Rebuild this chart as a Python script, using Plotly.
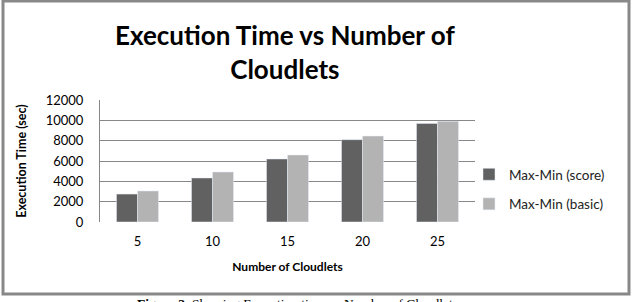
import plotly.graph_objects as go

categories = ["5", "10", "15", "20", "25"]
score = [2750, 4330, 6200, 8100, 9700]
basic = [3050, 4920, 6590, 8450, 9900]
yticks = [0, 2000, 4000, 6000, 8000, 10000, 12000]

W, H = 639, 302
L, R, T, B = 100, 164, 100, 80
pw, ph = W - L - R, H - T - B

def px(x):
    return (x - L) / pw

def py(y):
    return (H - B - y) / ph

fig = go.Figure()
fig.add_trace(go.Bar(x=categories, y=score, name="Max-Min (score)", marker_color="#616161",
                     legendgroup="a"))
fig.add_trace(go.Bar(x=categories, y=basic, name="Max-Min (basic)", marker_color="#b3b3b3",
                     legendgroup="b"))

fig.update_layout(
    width=W, height=H,
    margin=dict(l=L, r=R, t=T, b=B),
    paper_bgcolor="white", plot_bgcolor="white",
    barmode="group", bargap=0.44, bargroupgap=0,
    font=dict(family="Lato", color="#000"),
    showlegend=True,
    legend=dict(x=px(469), y=py(159), xanchor="left", yanchor="top",
                font=dict(size=13.5, family="Lato", color="#222"),
                itemwidth=30, tracegroupgap=9, bgcolor="rgba(0,0,0,0)"),
    xaxis=dict(showline=False, ticks="", tickfont=dict(size=13, family="Lato"),
               ticklabelstandoff=10,
               title=dict(text="<b>Number of Cloudlets</b>", font=dict(size=12), standoff=14)),
    yaxis=dict(range=[0, 12000], tickvals=yticks, ticktext=[str(v) for v in yticks],
               showgrid=True, gridcolor="#888", gridwidth=1,
               showline=True, linecolor="#888", linewidth=1, ticks="", zeroline=False,
               tickfont=dict(size=13, family="Lato"), ticklabelstandoff=13,
               title=dict(text="<b>Execution Time (sec)</b>", font=dict(size=12.5), standoff=16)),
    shapes=[dict(type="rect", xref="paper", yref="paper",
                 x0=px(3), x1=px(629), y0=py(294), y1=py(1),
                 line=dict(color="#888", width=3), layer="below")],
    annotations=[
        dict(text="<b>Execution Time vs Number of<br>Cloudlets</b>",
             xref="paper", yref="paper", x=px(285), y=py(17),
             xanchor="center", yanchor="top", showarrow=False,
             font=dict(size=26, family="Lato", color="#000")),
        dict(text="<b>Figure 3.</b> Showing Execution time vs Number of Cloudlets",
             xref="paper", yref="paper", x=px(135), y=py(294),
             xanchor="left", yanchor="top", showarrow=False,
             font=dict(size=13.5, family="Liberation Serif", color="#000")),
    ],
)
fig.write_html("out.html")
